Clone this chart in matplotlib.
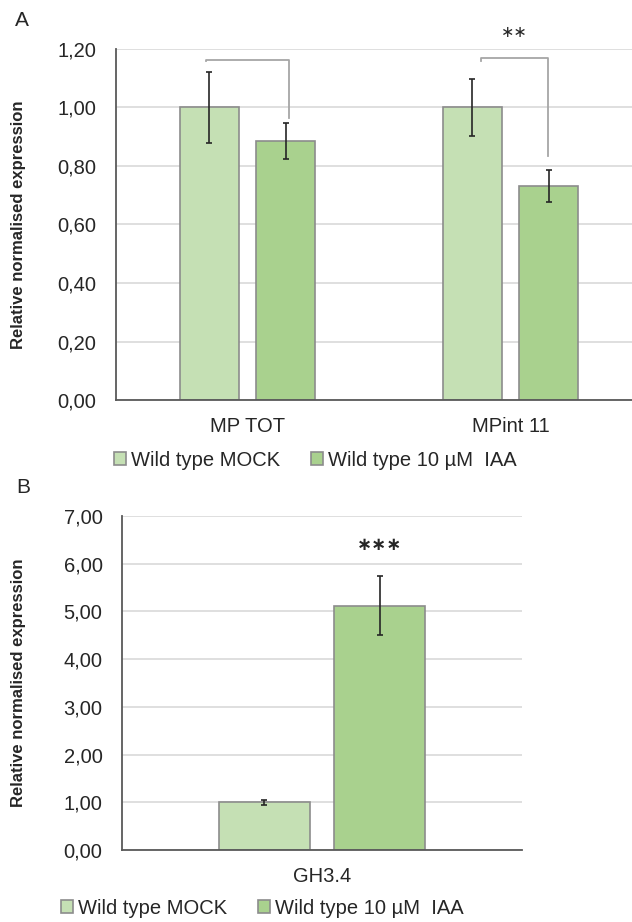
import numpy as np
import matplotlib
matplotlib.use("Agg")
import matplotlib.pyplot as plt
from matplotlib.ticker import FuncFormatter, MultipleLocator
from matplotlib.patches import Patch

plt.rcParams['font.family'] = ['Liberation Sans', 'DejaVu Sans']

# data panel A
genes_a = ['MP TOT', 'MPint 11']
mock_a = [1.00, 1.00]
mock_a_err = [0.12, 0.096]
iaa_a = [0.885, 0.731]
iaa_a_err = [0.061, 0.055]
signif_a = ['', '∗∗']

# data panel B
genes_b = ['GH3.4']
mock_b = [1.00]
mock_b_err = [0.05]
iaa_b = [5.12]
iaa_b_err = [0.62]
signif_b = ['∗∗∗']

series = ['Wild type MOCK', 'Wild type 10 µM  IAA']
c_mock = '#c5e0b4'
c_iaa = '#a9d18e'
edge = '#8c8c8c'

W, H = 632, 922
fig = plt.figure(figsize=(W / 100, H / 100), dpi=100)

def fx(px):
    return px / W

def fy(py):
    return 1 - py / H

comma = FuncFormatter(lambda v, p: f"{v:.2f}".replace('.', ','))
fs = 14.5
bw = 0.228
off = 0.1445

def style(ax, top, step):
    ax.set_ylim(0, top)
    ax.yaxis.set_major_locator(MultipleLocator(step))
    ax.yaxis.set_major_formatter(comma)
    ax.grid(axis='y', color='#d9d9d9', lw=1.2)
    ax.set_axisbelow(True)
    for s in ['top', 'right']:
        ax.spines[s].set_visible(False)
    ax.spines['left'].set_color('#595959')
    ax.spines['bottom'].set_color('#595959')
    ax.spines['left'].set_linewidth(1.3)
    ax.spines['bottom'].set_linewidth(1.3)
    ax.tick_params(axis='y', length=0, pad=14, labelsize=fs, labelcolor='#262626')
    ax.tick_params(axis='x', length=0, pad=12.5, labelsize=fs, labelcolor='#262626')

def bars(ax, genes, mock, mock_err, iaa, iaa_err):
    x = np.arange(len(genes))
    ekw = dict(ecolor='#262626', elinewidth=1.2, capsize=2.2, capthick=1.2)
    ax.bar(x - off, mock, bw, yerr=mock_err, color=c_mock, edgecolor=edge, lw=1.2,
           error_kw=ekw, label=series[0])
    ax.bar(x + off, iaa, bw, yerr=iaa_err, color=c_iaa, edgecolor=edge, lw=1.2,
           error_kw=ekw, label=series[1])
    ax.set_xticks(x)
    ax.set_xticklabels(genes)
    return x

# panel A
axA = fig.add_axes([fx(116), fy(400), 1 - fx(116), fy(49) - fy(400)])
style(axA, 1.2, 0.2)
xa = bars(axA, genes_a, mock_a, mock_a_err, iaa_a, iaa_a_err)
axA.set_xlim(-0.5, -0.5 + 516 / 263)

# brackets
br = [(-0.156, 0.156, 1.162, 1.16, 0.964), (-0.114, 0.144, 1.169, 1.16, 0.834)]
for i, (l, r, yt, yl, yr) in enumerate(br):
    axA.plot([xa[i] + l, xa[i] + l, xa[i] + r, xa[i] + r], [yl, yt, yt, yr],
             color='#a6a6a6', lw=1.3, clip_on=False)
    if signif_a[i]:
        axA.text(xa[i] + (l + r) / 2, 1.255, signif_a[i], ha='center', va='center',
                 fontsize=11.5, color='#262626', family='DejaVu Sans')

# panel B
axB = fig.add_axes([fx(122), fy(850), fx(522) - fx(122), fy(516) - fy(850)])
style(axB, 7, 1)
xb = bars(axB, genes_b, mock_b, mock_b_err, iaa_b, iaa_b_err)
axB.set_xlim(-0.5, 0.5)
for i, s in enumerate(signif_b):
    axB.text(xb[i] + off, 6.39, s, ha='center', va='center', fontsize=13,
             fontweight='bold', color='#262626', family='DejaVu Sans')

# y labels and panel letters
for yc in [225, 683]:
    fig.text(fx(19), fy(yc), 'Relative normalised expression', rotation=90,
             ha='center', va='center', fontsize=12, fontweight='bold', color='#262626')
fig.text(fx(15), fy(20), 'A', ha='left', va='center', fontsize=15, color='#262626')
fig.text(fx(16), fy(487), 'B', ha='left', va='center', fontsize=15, color='#262626')

# legends
handles = [Patch(facecolor=c_mock, edgecolor=edge, lw=1.2),
           Patch(facecolor=c_iaa, edgecolor=edge, lw=1.2)]
for xl, yl in [(114, 460), (61, 908)]:
    fig.legend(handles, series, loc='center left', bbox_to_anchor=(fx(xl), fy(yl)),
               ncol=2, frameon=False, fontsize=fs, borderpad=0, borderaxespad=0,
               handlelength=0.58, handleheight=0.58, handletextpad=0.25,
               columnspacing=1.55, labelcolor='#262626')

fig.savefig('out.png', dpi=100)
